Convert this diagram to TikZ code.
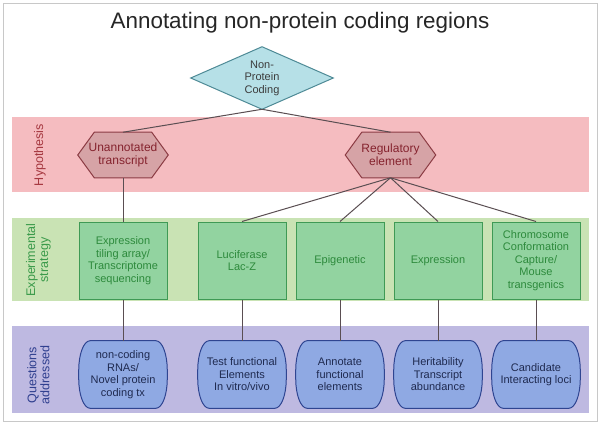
\documentclass[tikz,border=0pt]{standalone}
\usepackage{fontspec}
\setmainfont{Liberation Sans}
\usetikzlibrary{calc}
\pgfdeclarelayer{bands}
\pgfdeclarelayer{shapes}
\pgfsetlayers{bands,shapes,main}
\definecolor{framec}{HTML}{C8C8C8}
\definecolor{pinkband}{HTML}{F5BCC0}
\definecolor{greenband}{HTML}{C9E3B4}
\definecolor{purpleband}{HTML}{BEB9E1}
\definecolor{hexfill}{HTML}{D6A3A6}
\definecolor{hexdraw}{HTML}{8C3C44}
\definecolor{hextext}{HTML}{85232E}
\definecolor{hyptext}{HTML}{A5373F}
\definecolor{diafill}{HTML}{B6E0E7}
\definecolor{diadraw}{HTML}{4E8A96}
\definecolor{diatext}{HTML}{3C3C3C}
\definecolor{boxfill}{HTML}{92D3A0}
\definecolor{boxdraw}{HTML}{3F9A55}
\definecolor{boxtext}{HTML}{2D8A3C}
\definecolor{qfill}{HTML}{8FA9E3}
\definecolor{qdraw}{HTML}{2F4591}
\definecolor{qtext}{HTML}{1F2A50}
\definecolor{qlab}{HTML}{2F3F8F}
\definecolor{elab}{HTML}{3A9A4A}
\definecolor{linec}{HTML}{5A4E52}
\newcommand\hexa[1]{%
  \draw[hexshape] ([xshift=12.4pt]#1.north west) -- ([xshift=-12.4pt]#1.north east) -- (#1.east)
    -- ([xshift=-12.4pt]#1.south east) -- ([xshift=12.4pt]#1.south west) -- (#1.west) -- cycle;}
% barrel: rx = 8.5pt, ry = 22pt (control offsets 0.448*r)
\newcommand\barrel[1]{%
  \draw[qshape] ([xshift=8.5pt]#1.north west) -- ([xshift=-8.5pt]#1.north east)
    .. controls ([xshift=-3.8pt]#1.north east) and ([yshift=-9.9pt]#1.north east) .. ([yshift=-22pt]#1.north east)
    -- ([yshift=22pt]#1.south east)
    .. controls ([yshift=9.9pt]#1.south east) and ([xshift=-3.8pt]#1.south east) .. ([xshift=-8.5pt]#1.south east)
    -- ([xshift=8.5pt]#1.south west)
    .. controls ([xshift=3.8pt]#1.south west) and ([yshift=9.9pt]#1.south west) .. ([yshift=22pt]#1.south west)
    -- ([yshift=-22pt]#1.north west)
    .. controls ([yshift=-9.9pt]#1.north west) and ([xshift=3.8pt]#1.north west) .. ([xshift=8.5pt]#1.north west)
    -- cycle;}
\begin{document}
\begin{tikzpicture}[x=0.75pt,y=-0.75pt,
  smallfont/.style={font=\fontsize{8.25pt}{9.4pt}\selectfont},
  titletext/.style={anchor=base,font=\fontsize{16.8pt}{20pt}\selectfont,text=black!85},
  dtext/.style={smallfont,text=diatext,align=center,inner sep=0pt,minimum width=106.5pt,minimum height=46.5pt},
  dshape/.style={fill=diafill,draw=diadraw,line width=0.75pt},
  htext/.style={font=\fontsize{9pt}{9.75pt}\selectfont,text=hextext,align=center,inner sep=0pt,minimum width=67.5pt,minimum height=33.75pt},
  hexshape/.style={fill=hexfill,draw=hexdraw,line width=0.75pt},
  ebox/.style={smallfont,text=boxtext,align=center,inner sep=0pt,minimum width=66pt,minimum height=57.75pt,fill=boxfill,draw=boxdraw,line width=0.75pt},
  qtextnode/.style={smallfont,text=qtext,align=center,inner sep=0pt,minimum width=66pt,minimum height=50.25pt},
  qshape/.style={fill=qfill,draw=qdraw,line width=0.75pt},
  sidelab/.style={font=\fontsize{9.4pt}{9.75pt}\selectfont,align=center,rotate=90,inner sep=0pt},
  conn/.style={draw=linec,line width=0.75pt}]
\useasboundingbox (0,0) rectangle (600,425);
\begin{pgfonlayer}{bands}
  \fill[white] (0,0) rectangle (600,425);
  \draw[framec,line width=0.75pt] (3,3) rectangle (597,421);
  \fill[pinkband] (12,117) rectangle (589,192);
  \fill[greenband] (12,218) rectangle (589,301);
  \fill[purpleband] (12,326) rectangle (589,413);
\end{pgfonlayer}
% title
\node[titletext] (title) at (300,28) {Annotating non-protein coding regions};
% side labels
\node[sidelab,text=hyptext] (lh) at (40,155) {Hypothesis};
\node[sidelab,text=elab] (le) at (38.5,260) {Experimental\\strategy};
\node[sidelab,text=qlab] (lq) at (38.5,375) {Questions\\addressed};
% diamond
\node[dtext] (d) at (262,78) {Non-\\Protein\\Coding};
% hexagons
\node[htext] (h1) at (123,155) {Unannotated\\transcript};
\node[htext] (h2) at (390.5,155) {Regulatory\\element};
% strategy boxes
\node[ebox] (e1) at (123,260.5) {Expression\\tiling array/\\Transcriptome\\sequencing};
\node[ebox] (e2) at (242,260.5) {Luciferase\\Lac-Z};
\node[ebox] (e3) at (340,260.5) {Epigenetic};
\node[ebox] (e4) at (438,260.5) {Expression};
\node[ebox] (e5) at (536,260.5) {Chromosome\\Conformation\\Capture/\\Mouse\\transgenics};
% questions
\node[qtextnode] (q1) at (123,374.5) {non-coding\\RNAs/\\Novel protein\\coding tx};
\node[qtextnode] (q2) at (242,374.5) {Test functional\\Elements\\In vitro/vivo};
\node[qtextnode] (q3) at (340,374.5) {Annotate\\functional\\elements};
\node[qtextnode] (q4) at (438,374.5) {Heritability\\Transcript\\abundance};
\node[qtextnode] (q5) at (536,374.5) {Candidate\\Interacting loci};
% shapes and connectors behind the text
\begin{pgfonlayer}{shapes}
  \draw[dshape] (d.north) -- (d.east) -- (d.south) -- (d.west) -- cycle;
  \hexa{h1}
  \hexa{h2}
  \barrel{q1}\barrel{q2}\barrel{q3}\barrel{q4}\barrel{q5}
  \draw[conn] (d.south) -- (h1.north);
  \draw[conn] (d.south) -- (h2.north);
  \draw[conn] (h1.south) -- (e1.north);
  \foreach \b in {e2,e3,e4,e5} \draw[conn] (h2.south) -- (\b.north);
  \foreach \i in {1,...,5} \draw[conn] (e\i.south) -- (q\i.north);
\end{pgfonlayer}
\end{tikzpicture}
\end{document}
